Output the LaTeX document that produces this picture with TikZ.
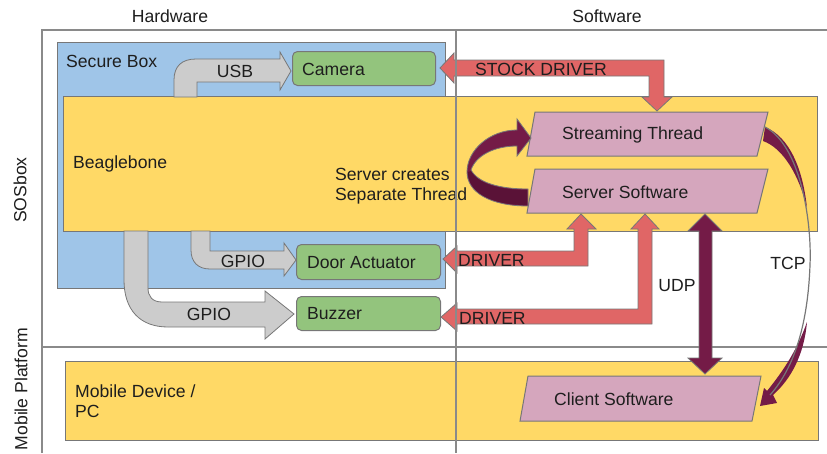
\documentclass[tikz,border=0pt]{standalone}
\usepackage{fontspec}
\setmainfont{Liberation Sans}
\usetikzlibrary{positioning}

\definecolor{boxblue}{HTML}{9FC5E8}
\definecolor{boardyellow}{HTML}{FFD966}
\definecolor{partgreen}{HTML}{93C47D}
\definecolor{threadpink}{HTML}{D5A6BD}
\definecolor{driverred}{HTML}{E06666}
\definecolor{busgrey}{HTML}{CCCCCC}
\definecolor{plum}{HTML}{741B47}
\definecolor{plumdark}{HTML}{5A1237}
\definecolor{edgegrey}{HTML}{777777}
\definecolor{lanegrey}{HTML}{8A8A8A}
\definecolor{ink}{HTML}{1E1E1E}

\tikzset{
	lane/.style={draw=lanegrey, line width=1.4pt},
	area/.style={draw=edgegrey, line width=1pt, anchor=north west, inner sep=0pt},
	part/.style={area, fill=partgreen, rounded corners=5pt},
	thread/.style={draw=edgegrey, line width=1pt, fill=threadpink},
	txt/.style={text=ink, font=\fontsize{17.6}{20}\selectfont, inner sep=0pt},
	bus/.style={draw=edgegrey, line width=0.8pt, fill=busgrey},
	driver/.style={draw=edgegrey, line width=0.8pt, fill=driverred},
	link/.style={draw=edgegrey, line width=0.8pt, fill=plum}
}

\begin{document}
\begin{tikzpicture}[x=1pt, y=-1pt]
	\useasboundingbox (0,0) rectangle (827,453);

	% lanes
	\draw[lane] (42,453) -- (42,30) -- (827,30);
	\draw[lane] (42,347) -- (827,347);
	\node[txt] (hw) at (170,16) {Hardware};
	\node[txt] (sw) at (607,16) {Software};
	\node[txt, rotate=90] (sos) at (20,190) {SOSbox};
	\node[txt, rotate=90] (mob) at (21,389) {Mobile Platform};

	% boxes
	\node[area, fill=boxblue, minimum width=388, minimum height=246] (secure) at (57,42) {};
	\node[txt, anchor=west] (securetxt) at (66,61) {Secure Box};
	\node[area, fill=boardyellow, minimum width=754, minimum height=135] (beagle) at (63,96) {};
	\node[txt, anchor=west] (beagletxt) at (73,164) {Beaglebone};
	\node[area, fill=boardyellow, minimum width=753, minimum height=79] (mobile) at (65,361) {};
	\node[txt, anchor=west, align=left] (mobiletxt) at (75,401) {Mobile Device /\\PC};

	\node[part, minimum width=143, minimum height=34] (camera) at (292,51) {};
	\node[txt, anchor=west] at (302,69) {Camera};
	\node[part, minimum width=144, minimum height=35] (door) at (296,244) {};
	\node[txt, anchor=west] at (307,263) {Door Actuator};
	\node[part, minimum width=144, minimum height=34] (buzzer) at (296,296) {};
	\node[txt, anchor=west] at (307,314) {Buzzer};

	% threads
	\draw[thread] (535,112) -- (768,112) -- (757,156) -- (527,156) -- cycle;
	\node[txt, anchor=west] (stream) at (562,135) {Streaming Thread};
	\draw[thread] (535,169) -- (768,169) -- (757,213) -- (527,213) -- cycle;
	\node[txt, anchor=west] (server) at (562,192) {Server Software};
	\draw[thread] (528,376) -- (761,376) -- (752,421) -- (520,421) -- cycle;
	\node[txt, anchor=west] (client) at (554,399) {Client Software};

	% hardware buses
	\draw[bus] (174,97) -- (174,80) .. controls (174,66) and (182,59) .. (196,59) -- (280,59) -- (280,52) -- (291,71) -- (280,90) -- (280,82) -- (197,82) -- (197,97) -- cycle;
	\node[txt] (usb) at (235,71) {USB};
	\draw[bus] (191,231) -- (191,250) .. controls (191,262) and (198,269) .. (210,269) -- (284,269) -- (284,276) -- (296,260) -- (284,243) -- (284,251) -- (210,251) -- (210,231) -- cycle;
	\node[txt] (gpioa) at (243,261) {GPIO};
	\draw[bus] (124,231) -- (124,280) .. controls (124,310) and (140,327) .. (168,327) -- (265,327) -- (265,339) -- (294,314) -- (265,291) -- (265,302) -- (162,302) .. controls (152,302) and (148,296) .. (148,288) -- (148,231) -- cycle;
	\node[txt] (gpiob) at (209,314) {GPIO};

	% drivers
	\draw[driver] (440,68) -- (454,53) -- (454,60) -- (664,60) -- (664,97) -- (672,97) -- (657,111) -- (642,97) -- (649,97) -- (649,76) -- (454,76) -- (454,83) -- cycle;
	\node[txt, anchor=west] (stock) at (475,69) {STOCK DRIVER};
	\draw[driver] (581,214) -- (596,229) -- (588,229) -- (588,266) -- (457,266) -- (457,273) -- (443,259) -- (457,246) -- (457,251) -- (574,251) -- (574,229) -- (567,229) -- cycle;
	\node[txt, anchor=west] (drva) at (458,260) {DRIVER};
	\draw[driver] (645,214) -- (659,229) -- (652,229) -- (652,324) -- (457,324) -- (457,331) -- (441,317) -- (457,303) -- (457,309) -- (638,309) -- (638,229) -- (631,229) -- cycle;
	\node[txt, anchor=west] (drvb) at (459,318) {DRIVER};

	% server spawns thread
	\draw[link] (528,206) .. controls (490,206) and (467,192) .. (467,172) .. controls (467,150) and (490,130) .. (517,130) -- (517,119) -- (531,138) -- (517,156) -- (517,146) .. controls (495,146) and (476,155) .. (471,170) .. controls (478,183) and (500,189) .. (528,189) -- cycle;
	\fill[plumdark] (527,205) .. controls (490,205) and (468,192) .. (468,172) -- (471,171) .. controls (478,184) and (500,190) .. (527,190) -- cycle;
	\node[txt, anchor=west, align=left] (spawn) at (335,186) {Server creates\\Separate Thread};

	% network
	\draw[link] (705,214) -- (722,231) -- (712,231) -- (712,358) -- (722,358) -- (705,374) -- (688,358) -- (699,358) -- (699,231) -- (688,231) -- cycle;
	\node[txt] (udp) at (677,286) {UDP};
	\fill[plum] (765,127) .. controls (790,137) and (803,170) .. (807,208) .. controls (799,175) and (783,148) .. (763,141) -- cycle;
	\fill[plum] (807,322) .. controls (804,355) and (791,379) .. (773,395) -- (777,403) -- (760,406) -- (764,388) -- (767,391) .. controls (784,370) and (797,350) .. (807,322) -- cycle;
	\draw[draw=edgegrey, line width=1.2pt] (765,127) .. controls (800,145) and (812,220) .. (810,265) .. controls (808,320) and (796,366) .. (770,395);
	\node[txt] (tcp) at (788,263) {TCP};

	\draw[lane] (456,30) -- (456,453);
\end{tikzpicture}
\end{document}
